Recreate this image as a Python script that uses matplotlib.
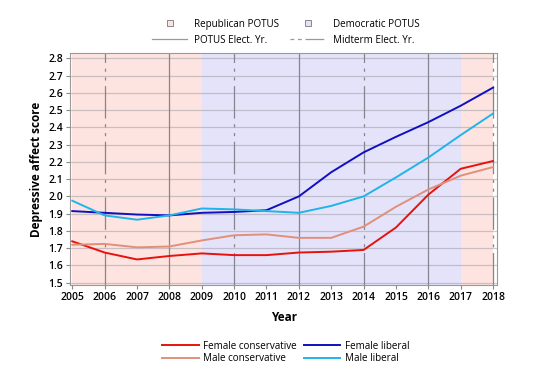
import numpy as np
from matplotlib import pyplot as plt
from matplotlib.lines import Line2D

plt.rcParams["font.family"] = ["Open Sans", "DejaVu Sans"]

years = list(range(2005, 2019))
female_cons = [1.74, 1.675, 1.635, 1.655, 1.67, 1.66, 1.66, 1.675, 1.68, 1.69, 1.82, 2.01, 2.16, 2.205]
male_cons = [1.72, 1.725, 1.705, 1.71, 1.745, 1.775, 1.78, 1.76, 1.76, 1.825, 1.94, 2.04, 2.12, 2.17]
female_lib = [1.915, 1.905, 1.895, 1.89, 1.905, 1.91, 1.92, 2.0, 2.14, 2.255, 2.345, 2.43, 2.525, 2.63]
male_lib = [1.975, 1.89, 1.865, 1.89, 1.93, 1.925, 1.915, 1.905, 1.945, 2.0, 2.11, 2.225, 2.355, 2.48]

# presidency spans (start, end, party)
terms = [(2005, 2009, "R"), (2009, 2017, "D"), (2017, 2018, "R")]
potus_years = [2008, 2012, 2016]
midterm_years = [2006, 2010, 2014, 2018]

REP_COL = "#fde4e0"
DEM_COL = "#e4e3fa"
GRID_COL = "#85858f"
MID_DASH = (0, (26, 4.5, 2.5, 4.5, 2.5, 4.5))

fig = plt.figure(figsize=(5.6, 3.79), dpi=100)
ax = fig.add_axes([0.125, 0.248, 0.763, 0.612])

for start, end, party in terms:
    ax.axvspan(start, end, color=REP_COL if party == "R" else DEM_COL, lw=0, zorder=0)

for t in np.arange(1.5, 2.81, 0.1):
    ax.axhline(t, color="#909098", alpha=0.45, lw=0.9, zorder=1)
for yr in potus_years:
    ax.axvline(yr, color=GRID_COL, lw=0.9, zorder=1)
for yr in midterm_years:
    ax.axvline(yr, color=GRID_COL, lw=0.9, ls=MID_DASH, zorder=1)

ax.plot(years, female_cons, color="#e8120c", lw=1.4, zorder=3)
ax.plot(years, male_cons, color="#e0907a", lw=1.4, zorder=3)
ax.plot(years, female_lib, color="#1010c0", lw=1.4, zorder=3)
ax.plot(years, male_lib, color="#20b4ea", lw=1.4, zorder=3)

ax.set_xlim(2004.93, 2018.13)
ax.set_ylim(1.487, 2.83)
ax.set_xticks(years)
ax.set_yticks(np.round(np.arange(1.5, 2.81, 0.1), 1))
ax.set_yticklabels([f"{v:.1f}" for v in np.arange(1.5, 2.81, 0.1)])
ax.tick_params(labelsize=7.5, length=3, color="#888888", pad=2)
for lab in ax.get_xticklabels() + ax.get_yticklabels():
    lab.set_fontweight("semibold")
for sp in ax.spines.values():
    sp.set_color("#999999")
    sp.set_linewidth(0.8)

ax.set_xlabel("Year", fontsize=8.5, fontweight="bold", labelpad=6)
ax.set_ylabel("Depressive affect score", fontsize=8.5, fontweight="bold", labelpad=4)

top_handles = [
    Line2D([], [], marker="s", ls="none", ms=4, mfc=REP_COL, mec="#777777", mew=0.6),
    Line2D([], [], color="#999999", lw=0.9),
    Line2D([], [], marker="s", ls="none", ms=4, mfc=DEM_COL, mec="#777777", mew=0.6),
    Line2D([], [], color="#999999", lw=0.9, ls=(0, (3, 3, 3, 3, 12, 0))),
]
top_labels = ["Republican POTUS", "POTUS Elect. Yr.", "Democratic POTUS", "Midterm Elect. Yr."]
fig.legend(top_handles, top_labels, ncol=2, loc="center", bbox_to_anchor=(0.51, 0.915),
           frameon=False, fontsize=7.1, handlelength=3.6, columnspacing=1.1,
           labelspacing=0.5, handletextpad=0.7)

bot_handles = [
    Line2D([], [], color="#e8120c", lw=1.4),
    Line2D([], [], color="#e0907a", lw=1.4),
    Line2D([], [], color="#1010c0", lw=1.4),
    Line2D([], [], color="#20b4ea", lw=1.4),
]
bot_labels = ["Female conservative", "Male conservative", "Female liberal", "Male liberal"]
fig.legend(bot_handles, bot_labels, ncol=2, loc="center", bbox_to_anchor=(0.51, 0.07),
           frameon=False, fontsize=7.1, handlelength=3.7, columnspacing=0.7,
           labelspacing=0.15, handletextpad=0.45)

fig.savefig("out.png", dpi=100)
